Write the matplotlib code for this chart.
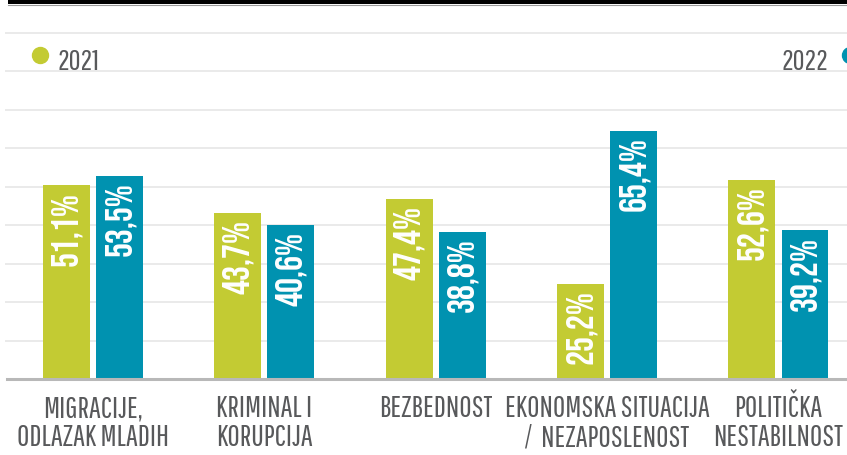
import numpy as np
import matplotlib
matplotlib.use("Agg")
import matplotlib.pyplot as plt
from matplotlib.patches import Rectangle
from matplotlib.lines import Line2D


categories = [
    "MIGRACIJE,\nODLAZAK MLADIH",
    "KRIMINAL I\nKORUPCIJA",
    "BEZBEDNOST",
    "EKONOMSKA SITUACIJA\n/  NEZAPOSLENOST",
    "POLITIČKA\nNESTABILNOST",
]
years = ["2021", "2022"]
values_2021 = [51.1, 43.7, 47.4, 25.2, 52.6]
values_2022 = [53.5, 40.6, 38.8, 65.4, 39.2]

GREEN = "#c3cb33"
TEAL = "#0092b0"
GREY_TEXT = "#58595b"
LABEL_FONT = ["Pathway Gothic One", "DejaVu Sans"]
VALUE_FONT = ["Bebas Neue", "DejaVu Sans"]


def fmt(v: float) -> str:
    '''
    [FMT] formats a percentage with a decimal comma.
    '''
    return f"{v:.1f}".replace(".", ",") + "%"


def px(x: float, y: float) -> tuple:
    '''
    [PX] converts pixel coordinates (from top-left) to figure fraction.
    '''
    return x / 847, 1 - y / 455


def plot_graph() -> None:
    '''
    [PLOT_GRAPH] draws the grouped bar chart and saves it as out.png.
    '''
    fig = plt.figure(figsize=(8.47, 4.55), dpi=100)
    ax = fig.add_axes([5 / 847, 76 / 455, 842 / 847, 374 / 455])

    x = np.arange(len(categories))
    w = 0.274
    off = 0.155
    series = [(values_2021, GREEN, -off), (values_2022, TEAL, off)]
    for vals, col, dx in series:
        ax.bar(x + dx, vals, width=w, color=col, zorder=3)
        for xi, v in zip(x + dx, vals):
            ax.annotate(fmt(v), (xi, v), xytext=(0, -4.5),
                        textcoords="offset points", rotation=90,
                        ha="center", va="top", color="white",
                        fontsize=27, family=VALUE_FONT, zorder=4)

    ax.set_xlim(-0.513, 4.40)
    ax.set_ylim(0, 98.7)
    # grid lines sit about every 38.5 px in the reference
    ax.set_yticks(np.arange(1, 10) * 10.16)
    ax.yaxis.grid(True, color="#e6e6e6", lw=1.2, zorder=0)
    ax.tick_params(left=False, bottom=False, labelleft=False,
                   labelbottom=False)
    for s in ax.spines.values():
        s.set_visible(False)
    ax.axhline(0, xmin=2 / 842, color="#b8b8b8", lw=2.2, zorder=5,
               clip_on=False)

    for xi, cat in zip(x, categories):
        ax.annotate(cat, (xi, 0), xycoords=("data", "axes fraction"),
                    xytext=(0, -11), textcoords="offset points",
                    ha="center", va="top", color=GREY_TEXT, fontsize=21.5,
                    family=LABEL_FONT, linespacing=1.0)

    # top black rule
    fig.add_artist(Rectangle(px(8, 4), 839 / 847, 4 / 455,
                             transform=fig.transFigure, color="black",
                             lw=0))
    fig.add_artist(Line2D([8 / 847, 1], [1 - 4.6 / 455] * 2,
                          transform=fig.transFigure, color="#9a9a9a",
                          lw=0.8))

    # legend
    fig.add_artist(Line2D([px(40, 0)[0]], [px(0, 55)[1]], marker="o",
                          ms=11.5, color=GREEN, transform=fig.transFigure,
                          lw=0))
    fig.add_artist(Line2D([px(850, 0)[0]], [px(0, 55)[1]], marker="o",
                          ms=11.5, color=TEAL, transform=fig.transFigure,
                          lw=0))
    fig.text(*px(57, 70), years[0], ha="left", va="baseline",
             color=GREY_TEXT, fontsize=21, family=LABEL_FONT)
    fig.text(*px(828, 70), years[1], ha="right", va="baseline",
             color=GREY_TEXT, fontsize=21, family=LABEL_FONT)

    fig.savefig("out.png", dpi=100)
    plt.close("all")


def main():
    '''
    [MAIN] builds the chart.
    '''
    plot_graph()


if __name__ == "__main__":
    main()
